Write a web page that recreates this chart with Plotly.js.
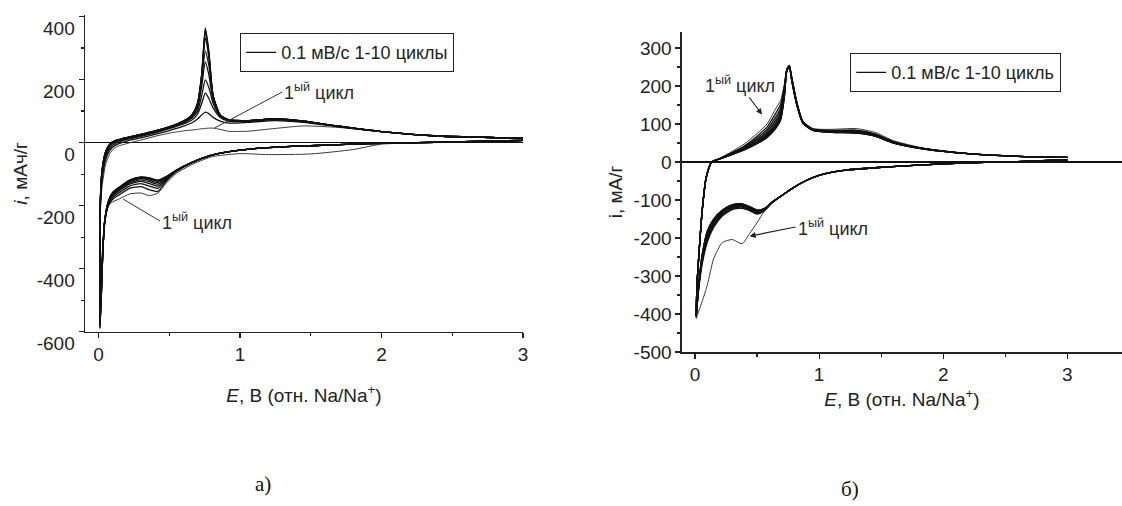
<!DOCTYPE html>
<html>
<head>
<meta charset="utf-8">
<script src="https://cdn.plot.ly/plotly-3.0.1.min.js"></script>
<style>html,body{margin:0;padding:0;background:#fff;}#chart{width:1122px;height:506px;}</style>
</head>
<body>
<div id="chart"></div>
<script>
// ---------- Panel a) : potential grids (V vs Na/Na+) ----------
var leftCathodicE = [3.0, 2.5, 2.0, 1.8, 1.5, 1.2, 1.0, 0.8, 0.65, 0.55, 0.48, 0.42, 0.36, 0.3, 0.22, 0.15, 0.1, 0.07, 0.045, 0.03, 0.02, 0.01];
var leftAnodicE = [0.01, 0.009, 0.012, 0.025, 0.05, 0.08, 0.12, 0.2, 0.3, 0.4, 0.5, 0.6, 0.66, 0.7, 0.73, 0.755, 0.78, 0.81, 0.86, 0.92, 1.05, 1.25, 1.45, 1.7, 2.0, 2.4, 3.0];

// Panel a) currents, mAh/g, cycles 1..10 (cathodic scan 3 V -> 0.01 V)
var leftCathodicI = [
  [6, 1, -5, -22, -36, -38, -35, -45, -72, -98, -128, -160, -168, -160, -163, -178, -188, -200, -240, -320, -420, -520],
  [7, 2, -2, -5, -10, -16, -24, -40, -66, -92, -122, -155, -150, -140, -145, -165, -180, -200, -250, -340, -450, -540],
  [7, 2, -2, -5, -10, -16, -24, -40, -66, -92, -118, -145, -138, -130, -138, -158, -175, -198, -250, -345, -460, -555],
  [7, 2, -2, -5, -10, -16, -24, -40, -66, -90, -115, -138, -130, -123, -132, -152, -170, -195, -250, -350, -470, -565],
  [7, 2, -2, -5, -10, -16, -24, -40, -65, -89, -112, -132, -124, -118, -128, -148, -166, -192, -248, -350, -475, -570],
  [7, 2, -2, -5, -10, -16, -24, -40, -65, -88, -110, -127, -119, -114, -124, -145, -163, -190, -246, -350, -480, -575],
  [7, 2, -2, -5, -10, -16, -24, -40, -65, -88, -109, -123, -116, -112, -122, -143, -161, -188, -245, -352, -485, -578],
  [7, 2, -2, -5, -10, -16, -24, -40, -65, -88, -108, -121, -114, -111, -121, -142, -160, -187, -244, -352, -488, -582],
  [7, 2, -2, -5, -10, -16, -24, -40, -65, -88, -108, -120, -113, -110, -120, -141, -159, -186, -244, -353, -490, -586],
  [7, 2, -2, -5, -10, -16, -24, -40, -65, -88, -108, -119, -112, -109, -119, -140, -158, -185, -243, -353, -492, -590]
];
// Panel a) currents, anodic scan 0.01 V -> 3 V
var leftAnodicI = [
  [-520, -400, -230, -140, -70, -35, -15, -3, 8, 20, 30, 37, 40, 42, 44, 45, 46, 46, 42, 36, 36, 45, 53, 48, 35, 21, 14],
  [-540, -410, -220, -120, -55, -25, -8, 5, 15, 26, 38, 52, 63, 75, 88, 97, 92, 80, 68, 62, 64, 70, 64, 50, 35, 21, 14],
  [-555, -415, -215, -110, -45, -18, -3, 10, 20, 31, 44, 59, 72, 90, 125, 157, 140, 110, 80, 68, 67, 73, 66, 51, 35, 21, 14],
  [-565, -418, -210, -100, -40, -12, 2, 12, 22, 33, 46, 62, 78, 100, 150, 199, 175, 125, 84, 70, 68, 74, 67, 51, 35, 21, 14],
  [-570, -418, -205, -95, -35, -8, 4, 14, 24, 35, 48, 64, 82, 110, 180, 256, 215, 135, 86, 71, 69, 75, 67, 52, 35, 21, 14],
  [-575, -420, -202, -92, -32, -6, 5, 15, 25, 36, 49, 66, 85, 117, 200, 290, 245, 142, 87, 72, 70, 75, 68, 52, 35, 21, 14],
  [-578, -420, -200, -90, -30, -5, 6, 16, 26, 37, 50, 67, 87, 122, 212, 332, 270, 146, 88, 72, 70, 75, 68, 52, 35, 21, 14],
  [-582, -420, -200, -90, -30, -5, 6, 16, 26, 37, 50, 68, 88, 124, 216, 350, 282, 148, 88, 72, 70, 75, 68, 52, 35, 21, 14],
  [-586, -420, -200, -90, -30, -5, 6, 16, 26, 37, 50, 68, 88, 125, 218, 358, 286, 149, 88, 72, 70, 75, 68, 52, 35, 21, 14],
  [-590, -420, -200, -90, -30, -5, 6, 16, 26, 37, 50, 68, 88, 125, 220, 364, 290, 150, 88, 72, 70, 75, 68, 52, 35, 21, 14]
];

// ---------- Panel б) : potential grids ----------
var rightCathodicE = [3.0, 2.6, 2.2, 1.8, 1.5, 1.2, 1.0, 0.9, 0.8, 0.7, 0.62, 0.56, 0.5, 0.44, 0.38, 0.3, 0.22, 0.15, 0.1, 0.06, 0.03, 0.01];
var rightAnodicE = [0.01, 0.015, 0.03, 0.06, 0.09, 0.135, 0.2, 0.3, 0.4, 0.5, 0.58, 0.65, 0.69, 0.72, 0.74, 0.76, 0.78, 0.82, 0.87, 0.95, 1.1, 1.3, 1.45, 1.6, 1.85, 2.2, 2.6, 3.0];

// Panel б) currents, mA/g, cycles 1..10
var rightCathodicI = [
  [6, 1, -2, -8, -14, -22, -35, -48, -66, -88, -108, -128, -160, -188, -215, -204, -212, -255, -323, -365, -393, -412],
  [6, 1, -2, -8, -14, -22, -35, -48, -66, -88, -108, -128, -137, -128, -122, -125, -142, -172, -210, -265, -335, -408],
  [6, 1, -2, -8, -14, -22, -35, -48, -66, -88, -107, -127, -135, -126, -119, -122, -139, -168, -205, -260, -332, -407],
  [6, 1, -2, -8, -14, -22, -35, -48, -66, -88, -106, -126, -133, -124, -117, -120, -136, -164, -200, -255, -330, -406],
  [6, 1, -2, -8, -14, -22, -35, -48, -66, -88, -106, -125, -131, -122, -115, -118, -133, -160, -195, -250, -328, -406],
  [6, 1, -2, -8, -14, -22, -35, -48, -66, -88, -106, -124, -130, -121, -113, -116, -131, -157, -190, -247, -326, -405],
  [6, 1, -2, -8, -14, -22, -35, -48, -66, -88, -106, -123, -129, -120, -112, -115, -129, -155, -187, -244, -324, -405],
  [6, 1, -2, -8, -14, -22, -35, -48, -66, -88, -106, -123, -128, -119, -111, -114, -128, -153, -184, -242, -322, -405],
  [6, 1, -2, -8, -14, -22, -35, -48, -66, -88, -106, -122, -127, -118, -110, -113, -127, -151, -182, -241, -321, -405],
  [6, 1, -2, -8, -14, -22, -35, -48, -66, -88, -106, -122, -126, -117, -110, -112, -126, -150, -180, -240, -320, -405]
];
var rightAnodicI = [
  [-412, -335, -255, -125, -45, 0, 10, 28, 48, 75, 100, 140, 162, 205, 245, 255, 225, 160, 108, 88, 86, 88, 78, 56, 36, 22, 15, 12],
  [-408, -333, -252, -123, -43, 0, 9, 25, 43, 68, 92, 128, 152, 200, 244, 254, 222, 158, 106, 87, 83, 84, 74, 54, 35, 22, 15, 12],
  [-407, -332, -252, -122, -42, 0, 9, 24, 40, 63, 85, 118, 143, 195, 243, 253, 220, 156, 105, 86, 82, 82, 73, 53, 35, 22, 15, 12],
  [-406, -331, -251, -122, -42, 0, 9, 23, 38, 59, 80, 110, 136, 190, 242, 252, 218, 155, 104, 85, 81, 81, 72, 52, 35, 22, 15, 12],
  [-406, -331, -251, -121, -41, 0, 8, 22, 37, 56, 76, 104, 130, 185, 242, 252, 217, 154, 104, 85, 80, 80, 71, 52, 35, 22, 15, 12],
  [-405, -330, -250, -121, -41, 0, 8, 21, 36, 54, 73, 99, 125, 181, 241, 251, 216, 153, 103, 84, 80, 79, 70, 51, 34, 22, 15, 12],
  [-405, -330, -250, -120, -40, 0, 8, 21, 35, 52, 70, 96, 120, 177, 241, 251, 215, 152, 103, 84, 79, 78, 69, 51, 34, 22, 15, 12],
  [-405, -330, -250, -120, -40, 0, 8, 20, 34, 50, 68, 93, 116, 174, 240, 250, 214, 151, 102, 83, 79, 77, 69, 50, 34, 22, 15, 12],
  [-405, -330, -250, -120, -40, 0, 8, 20, 33, 49, 66, 90, 113, 172, 240, 250, 213, 150, 102, 83, 78, 76, 68, 50, 34, 22, 15, 12],
  [-405, -330, -250, -120, -40, 0, 8, 20, 32, 48, 64, 88, 110, 170, 240, 250, 212, 150, 102, 83, 78, 76, 68, 50, 34, 22, 15, 12]
];

// tick values and labels (hyphen minus as in the original figure)
var leftXTicks = [0, 1, 2, 3];
var leftYTicks = [-600, -400, -200, 0, 200, 400];
var leftYTickText = ['-600', '-400', '-200', '0', '200', '400'];
var rightXTicks = [0, 1, 2, 3];
var rightYTicks = [-500, -400, -300, -200, -100, 0, 100, 200, 300];
var rightYTickText = ['-500', '-400', '-300', '-200', '-100', '0', '100', '200', '300'];
var legendLeftText = '0.1 мВ/с 1-10 циклы';
var legendRightText = '0.1 мВ/с 1-10 цикль';
var cycleLabel = '1<sup>ый</sup> цикл';

var traces = [];
function addPanel(catE, anE, catI, anI, xa, ya, legendName, legendText) {
  for (var c = 0; c < catI.length; c++) {
    var first = (c === 0);
    traces.push({
      type: 'scatter', mode: 'lines',
      x: catE.concat(anE), y: catI[c].concat(anI[c]),
      xaxis: xa, yaxis: ya,
      line: {color: first ? '#3a3a3a' : '#111', width: first ? 1 : 1.3, shape: 'spline', smoothing: 0.6},
      name: legendText, legend: legendName,
      showlegend: (c === catI.length - 1),
      hoverinfo: 'skip'
    });
  }
}
addPanel(leftCathodicE, leftAnodicE, leftCathodicI, leftAnodicI, 'x', 'y', 'legend', legendLeftText);
addPanel(rightCathodicE, rightAnodicE, rightCathodicI, rightAnodicI, 'x2', 'y2', 'legend2', legendRightText);

var axCommon = {
  showline: true, linecolor: '#222', linewidth: 1.5, mirror: false,
  showgrid: false, zeroline: false,
  ticks: 'outside', ticklen: 5, tickwidth: 1.2, tickcolor: '#222',
  tickfont: {size: 19, color: '#222'}, ticklabeloverflow: 'allow'
};
function ax(extra) { return Object.assign({}, axCommon, extra); }

var annFont = {size: 18, color: '#2a2a2a'};
var layout = {
  width: 1122, height: 506,
  margin: {l: 0, r: 0, t: 0, b: 0},
  paper_bgcolor: '#fff', plot_bgcolor: '#fff',
  font: {family: 'Liberation Sans, Arial, sans-serif', color: '#222'},
  xaxis: ax({domain: [0.0758, 0.4661], range: [-0.095, 3.0], anchor: 'y',
    tickmode: 'array', tickvals: leftXTicks,
    minor: {tickvals: [0.5, 1.5, 2.5], ticks: 'outside', ticklen: 3, tickcolor: '#222'},
    title: {text: '<i>E</i>, В (отн. Na/Na<sup>+</sup>)', font: {size: 19}, standoff: 24}}),
  yaxis: ax({domain: [0.3445, 0.9704], range: [-600, 405], anchor: 'x',
    tickmode: 'array', tickvals: leftYTicks, ticktext: leftYTickText, ticklabelshift: 12,
    minor: {tickvals: [-500, -300, -100, 100, 300], ticks: 'outside', ticklen: 3, tickcolor: '#222'},
    zeroline: true, zerolinecolor: '#111', zerolinewidth: 1.5,
    title: {text: '<i>i</i>, мАч/г', font: {size: 19}, standoff: 4}}),
  xaxis2: ax({domain: [0.6078, 1.0], range: [-0.105, 3.44], anchor: 'y2',
    tickmode: 'array', tickvals: rightXTicks,
    minor: {tickvals: [0.5, 1.5, 2.5], ticks: 'outside', ticklen: 3, tickcolor: '#222'},
    title: {text: '<i>E</i>, В (отн. Na/Na<sup>+</sup>)', font: {size: 19}, standoff: 8}}),
  yaxis2: ax({domain: [0.3043, 0.9374], range: [-500, 343], anchor: 'x2',
    tickmode: 'array', tickvals: rightYTicks, ticktext: rightYTickText,
    minor: {tickvals: [-450, -350, -250, -150, -50, 50, 150, 250], ticks: 'outside', ticklen: 3, tickcolor: '#222'},
    zeroline: true, zerolinecolor: '#111', zerolinewidth: 1.5,
    title: {text: 'i, мА/г', font: {size: 19}, standoff: 6}}),
  showlegend: true,
  legend: {x: 0.2139, y: 0.9348, xanchor: 'left', yanchor: 'top',
    bgcolor: '#fff', bordercolor: '#222', borderwidth: 1.2,
    font: {size: 18, color: '#222'}, tracegroupgap: 0},
  legend2: {x: 0.7576, y: 0.8953, xanchor: 'left', yanchor: 'top',
    bgcolor: '#fff', bordercolor: '#222', borderwidth: 1.2,
    font: {size: 18, color: '#222'}, tracegroupgap: 0},
  annotations: [
    {xref: 'x', yref: 'y', x: 0.82, y: 46, axref: 'x', ayref: 'y', ax: 1.30, ay: 161,
      text: cycleLabel, showarrow: true, arrowhead: 0, arrowwidth: 1, arrowcolor: '#333',
      xanchor: 'left', yanchor: 'middle', font: annFont},
    {xref: 'x', yref: 'y', x: 0.174, y: -179, axref: 'x', ayref: 'y', ax: 0.435, ay: -249,
      text: cycleLabel, showarrow: true, arrowhead: 0, arrowwidth: 1, arrowcolor: '#333',
      xanchor: 'left', yanchor: 'middle', font: annFont},
    {xref: 'x2', yref: 'y2', x: 0.54, y: 125, axref: 'x2', ayref: 'y2', ax: 0.36, ay: 204,
      text: cycleLabel, showarrow: true, arrowhead: 2, arrowsize: 1, arrowwidth: 1.2, arrowcolor: '#222',
      xanchor: 'center', yanchor: 'middle', font: annFont},
    {xref: 'x2', yref: 'y2', x: 0.44, y: -195, axref: 'x2', ayref: 'y2', ax: 0.81, ay: -171,
      text: cycleLabel, showarrow: true, arrowhead: 2, arrowsize: 1, arrowwidth: 1.2, arrowcolor: '#222',
      xanchor: 'left', yanchor: 'middle', font: annFont},
    {xref: 'paper', yref: 'paper', x: 0.2344, y: 0.0435, text: 'а)', showarrow: false, xanchor: 'center', yanchor: 'middle', font: {family: 'Liberation Serif, Times New Roman, serif', size: 21, color: '#111'}},
    {xref: 'paper', yref: 'paper', x: 0.7576, y: 0.0336, text: 'б)', showarrow: false, xanchor: 'center', yanchor: 'middle', font: {family: 'Liberation Serif, Times New Roman, serif', size: 21, color: '#111'}}
  ]
};

Plotly.newPlot('chart', traces, layout, {staticPlot: true, displayModeBar: false});
</script>
</body>
</html>
